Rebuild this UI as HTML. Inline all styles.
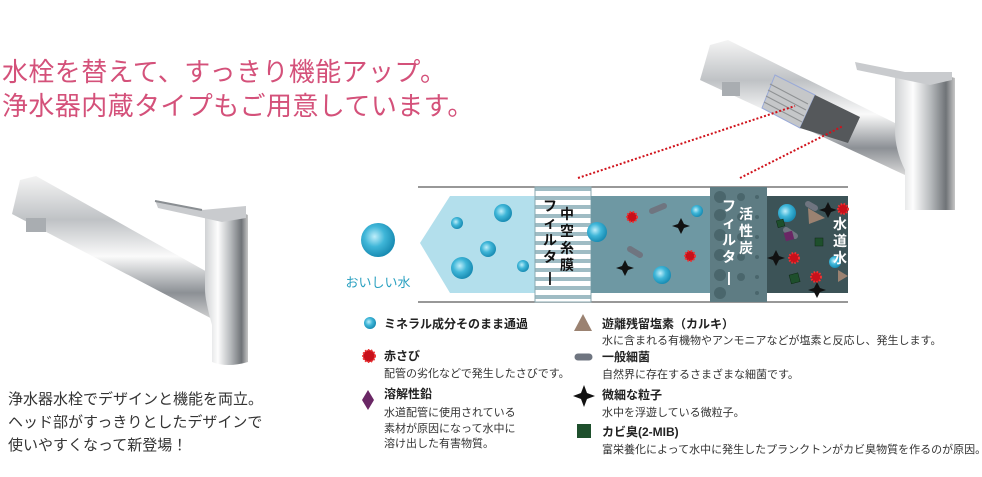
<!DOCTYPE html>
<html><head><meta charset="utf-8">
<style>
body{margin:0;width:982px;height:477px;overflow:hidden;background:#fff;font-family:"Liberation Sans","Noto Sans CJK JP",sans-serif;}
svg{position:absolute;left:0;top:0}
</style></head><body>
<svg width="982" height="477" viewBox="0 0 982 477" font-family="Liberation Sans, Noto Sans CJK JP, sans-serif">
<defs>
<linearGradient id="chrome" x1="0" y1="0" x2="0" y2="1">
<stop offset="0" stop-color="#f4f4f4"/><stop offset=".3" stop-color="#bfc2c5"/><stop offset=".55" stop-color="#fafafa"/><stop offset=".8" stop-color="#8c9095"/><stop offset="1" stop-color="#d8d8d8"/></linearGradient>
<linearGradient id="chromeV" x1="0" y1="0" x2="1" y2="0">
<stop offset="0" stop-color="#d0d2d4"/><stop offset=".3" stop-color="#fdfdfd"/><stop offset=".6" stop-color="#b5b8bb"/><stop offset=".85" stop-color="#6f7377"/><stop offset="1" stop-color="#c6c6c6"/></linearGradient>
<radialGradient id="drop" cx=".4" cy=".4" r=".6"><stop offset="0" stop-color="#bfeefa"/><stop offset=".5" stop-color="#3fb6d8"/><stop offset="1" stop-color="#1a8db4"/></radialGradient>
<pattern id="stripe" width="10" height="9" patternUnits="userSpaceOnUse"><rect width="10" height="9" fill="#9fbcc4"/><rect y="2" width="10" height="5" fill="#fff"/></pattern>
</defs>

<text x="2" y="81" font-size="26" fill="#d4517a" letter-spacing="0.4">水栓を替えて、すっきり機能アップ。</text>
<text x="2" y="115" font-size="26" fill="#d4517a" letter-spacing="0.4">浄水器内蔵タイプもご用意しています。</text>

<!-- left faucet -->
<g>
<polygon points="20,180 36,176 218,278 218,322 12,214" fill="url(#chrome)"/>
<rect x="26" y="218" width="20" height="14" fill="#a9adb1"/>
<path d="M205,215 Q227,205 248,215 L248,362 Q227,368 212,362 L212,325 Q205,300 205,290 Z" fill="url(#chromeV)"/>
<polygon points="155,200 158,208 222,222 246,218 246,206 202,210" fill="#c9cbce"/>
<line x1="155" y1="201" x2="202" y2="210" stroke="#8a8e92" stroke-width="2"/>
</g>
<text font-size="15" fill="#333"><tspan x="8" y="404">浄水器水栓でデザインと機能を両立。</tspan><tspan x="8" y="427">ヘッド部がすっきりとしたデザインで</tspan><tspan x="8" y="450">使いやすくなって新登場！</tspan></text>

<!-- right faucet -->
<g>
<polygon points="710,45 728,40 905,128 905,175 700,80" fill="url(#chrome)"/>
<rect x="722" y="82" width="18" height="14" fill="#a9adb1"/>
<path d="M895,75 Q925,68 955,78 L955,210 L905,210 L905,170 Q895,150 895,130 Z" fill="url(#chromeV)"/>
<polygon points="855,62 857,70 930,85 952,80 952,72 905,72" fill="#c9cbce"/>
<polygon points="775,75 815,95 800,128 762,108" fill="#c5c7c9" stroke="#9aaad8" stroke-width="1"/>
<g stroke="#8f9294" stroke-width="1"><line x1="770" y1="84" x2="808" y2="104"/><line x1="768" y1="90" x2="806" y2="110"/><line x1="766" y1="96" x2="804" y2="116"/><line x1="764" y1="102" x2="802" y2="122"/></g>
<polygon points="815,95 860,117 848,143 800,128" fill="#55585b"/>
</g>
<g stroke="#d0121b" stroke-width="2" stroke-dasharray="2,2"><line x1="578" y1="178" x2="795" y2="106"/><line x1="740" y1="178" x2="843" y2="126"/></g>

<!-- diagram -->
<line x1="418" y1="187" x2="848" y2="187" stroke="#777" stroke-width="1.5"/>
<line x1="418" y1="302" x2="848" y2="302" stroke="#777" stroke-width="1.5"/>
<polygon points="420,243 450,196 536,196 536,293 450,293" fill="#b3dfec"/>
<rect x="535" y="187" width="56" height="115" fill="url(#stripe)" stroke="#8aa8b0"/>
<rect x="591" y="196" width="119" height="97" fill="#6e98a3"/>
<rect x="710" y="187" width="57" height="115" fill="#5e7c83"/>
<g fill="#4a666c"><circle cx="720" cy="197" r="6"/><circle cx="720" cy="215" r="6"/><circle cx="720" cy="235" r="6"/><circle cx="720" cy="255" r="6"/><circle cx="720" cy="275" r="6"/><circle cx="720" cy="293" r="6"/><circle cx="741" cy="197" r="4"/><circle cx="741" cy="217" r="4"/><circle cx="741" cy="237" r="4"/><circle cx="741" cy="257" r="4"/><circle cx="741" cy="277" r="4"/><circle cx="757" cy="197" r="2"/><circle cx="757" cy="217" r="2"/><circle cx="757" cy="237" r="2"/><circle cx="757" cy="257" r="2"/><circle cx="757" cy="277" r="2"/><circle cx="757" cy="293" r="2"/></g>
<rect x="767" y="196" width="81" height="97" fill="#3c5357"/>

<g fill="url(#drop)"><circle cx="378" cy="240" r="17"/><circle cx="503" cy="213" r="9"/><circle cx="457" cy="223" r="6"/><circle cx="488" cy="249" r="8"/><circle cx="462" cy="268" r="11"/><circle cx="523" cy="266" r="6"/>
<circle cx="697" cy="211" r="6"/><circle cx="597" cy="232" r="10"/><circle cx="662" cy="275" r="9"/><circle cx="787" cy="213" r="9"/><circle cx="835" cy="262" r="6"/></g>
<text x="378" y="287" font-size="13" fill="#2aa0c0" text-anchor="middle">おいしい水</text>

<!-- contaminants -->
<g fill="#c8101a" stroke="#e33" stroke-width="2" stroke-dasharray="1.5,1.5"><circle cx="632" cy="217" r="5"/><circle cx="690" cy="256" r="5"/><circle cx="843" cy="209" r="5"/><circle cx="794" cy="258" r="5"/><circle cx="816" cy="277" r="5"/></g>
<g stroke="#6f7580" stroke-width="6" stroke-linecap="round"><line x1="652" y1="211" x2="664" y2="206"/><line x1="630" y1="249" x2="640" y2="255"/><line x1="786" y1="230" x2="795" y2="236"/><line x1="808" y1="204" x2="815" y2="208"/></g>
<g fill="#111"><path d="M681,218 l3,6 6,2 -6,2 -3,6 -3,-6 -6,-2 6,-2z"/><path d="M625,260 l3,6 6,2 -6,2 -3,6 -3,-6 -6,-2 6,-2z"/><path d="M828,202 l3,6 6,2 -6,2 -3,6 -3,-6 -6,-2 6,-2z"/><path d="M776,250 l3,6 6,2 -6,2 -3,6 -3,-6 -6,-2 6,-2z"/><path d="M817,282 l3,6 6,2 -6,2 -3,6 -3,-6 -6,-2 6,-2z"/></g>
<g fill="#1e4f2c" stroke="#0e2a14" stroke-width=".5"><rect x="777" y="220" width="7" height="7" transform="rotate(-15 780 223)"/><rect x="815" y="238" width="8" height="8"/><rect x="790" y="274" width="9" height="9" transform="rotate(-15 794 278)"/></g>
<polygon points="789,230 795,236 789,242 783,236" fill="#6a2765" transform="rotate(30 789 236)"/>
<polygon points="808,208 825,218 809,224" fill="#9b8271"/><polygon points="838,270 848,276 838,282" fill="#9b8271"/>

<g font-size="14" font-weight="bold" fill="#111" text-anchor="middle">
<text x="567" y="219">中</text><text x="567" y="236">空</text><text x="567" y="253">糸</text><text x="567" y="270">膜</text>
<text x="550" y="211">フ</text><text x="550" y="228">ィ</text><text x="550" y="245">ル</text><text x="550" y="262">タ</text><text x="550" y="282">|</text>
</g>
<g font-size="14" font-weight="bold" fill="#fff" text-anchor="middle">
<text x="746" y="219">活</text><text x="746" y="236">性</text><text x="746" y="253">炭</text>
<text x="729" y="211">フ</text><text x="729" y="228">ィ</text><text x="729" y="245">ル</text><text x="729" y="262">タ</text><text x="729" y="282">|</text>
<text x="840" y="229">水</text><text x="840" y="246">道</text><text x="840" y="263">水</text>
</g>

<!-- legend -->
<circle cx="370" cy="323" r="6" fill="url(#drop)"/>
<text x="384" y="328" font-size="12" font-weight="bold" fill="#222">ミネラル成分そのまま通過</text>
<circle cx="369" cy="356" r="6" fill="#c8101a" stroke="#e33" stroke-width="2" stroke-dasharray="1.5,1.5"/>
<text x="384" y="360" font-size="12" font-weight="bold" fill="#222">赤さび</text>
<text x="384" y="377" font-size="11" fill="#333">配管の劣化などで発生したさびです。</text>
<polygon points="368,390 374,400 368,410 362,400" fill="#6a2765"/>
<text x="384" y="398" font-size="12" font-weight="bold" fill="#222">溶解性鉛</text>
<text font-size="11" fill="#333"><tspan x="384" y="416">水道配管に使用されている</tspan><tspan x="384" y="432">素材が原因になって水中に</tspan><tspan x="384" y="447">溶け出した有害物質。</tspan></text>

<polygon points="583,314 592,331 574,331" fill="#9b8271"/>
<text x="602" y="328" font-size="12" font-weight="bold" fill="#222">遊離残留塩素（カルキ）</text>
<text x="602" y="344" font-size="11" fill="#333">水に含まれる有機物やアンモニアなどが塩素と反応し、発生します。</text>
<g stroke="#6f7580" stroke-width="7" stroke-linecap="round"><line x1="578" y1="357" x2="589" y2="357"/></g>
<text x="602" y="361" font-size="12" font-weight="bold" fill="#222">一般細菌</text>
<text x="602" y="378" font-size="11" fill="#333">自然界に存在するさまざまな細菌です。</text>
<path d="M584,385 l3,8 8,3 -8,3 -3,8 -3,-8 -8,-3 8,-3z" fill="#111"/>
<text x="602" y="399" font-size="12" font-weight="bold" fill="#222">微細な粒子</text>
<text x="602" y="416" font-size="11" fill="#333">水中を浮遊している微粒子。</text>
<rect x="577" y="424" width="14" height="14" fill="#1e4f2c"/>
<text x="602" y="436" font-size="12" font-weight="bold" fill="#222">カビ臭(2-MIB)</text>
<text x="602" y="453" font-size="11" fill="#333">富栄養化によって水中に発生したプランクトンがカビ臭物質を作るのが原因。</text>
</svg>
</body></html>
